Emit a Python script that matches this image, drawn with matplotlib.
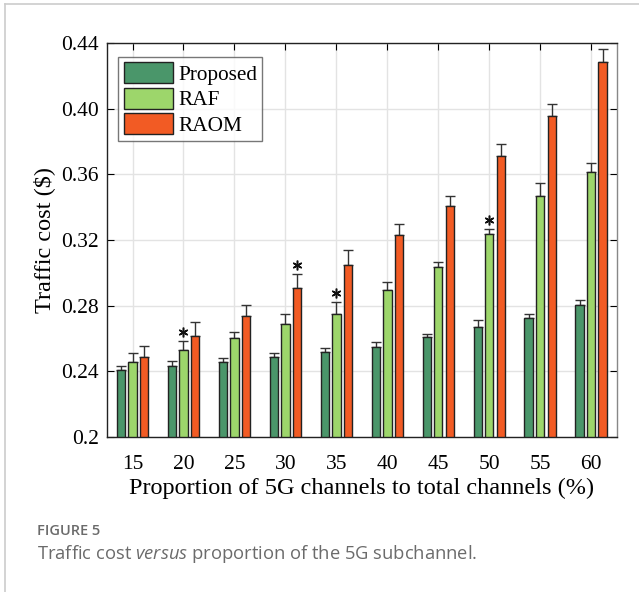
import matplotlib.pyplot as plt
import numpy as np

# Values
proportions = [15, 20, 25, 30, 35, 40, 45, 50, 55, 60]
proposed = [0.2406, 0.2431, 0.2459, 0.2487, 0.2516, 0.2550, 0.2611, 0.2668, 0.2723, 0.2804]
proposed_top = [0.2431, 0.2463, 0.2483, 0.2510, 0.2544, 0.2580, 0.2629, 0.2711, 0.2749, 0.2833]
raf = [0.2459, 0.2528, 0.2603, 0.2686, 0.2751, 0.2897, 0.3034, 0.3236, 0.3468, 0.3612]
raf_top = [0.2510, 0.2583, 0.2641, 0.2749, 0.2820, 0.2942, 0.3068, 0.3269, 0.3547, 0.3667]
raom = [0.2487, 0.2613, 0.2735, 0.2906, 0.3046, 0.3232, 0.3407, 0.3711, 0.3955, 0.4282]
raom_top = [0.2552, 0.2702, 0.2802, 0.2991, 0.3141, 0.3299, 0.3470, 0.3786, 0.4026, 0.4365]
# (series index, category index) of bars marked with an asterisk
starred = [(1, 1), (2, 3), (1, 4), (1, 7)]

series = [("Proposed", proposed, proposed_top, "#4a966a"),
          ("RAF", raf, raf_top, "#9dd66b"),
          ("RAOM", raom, raom_top, "#f25b24")]

plt.rcParams['font.family'] = ['Liberation Serif', 'DejaVu Serif']
plt.rcParams['mathtext.fontset'] = 'custom'
plt.rcParams['mathtext.rm'] = 'Open Sans'
plt.rcParams['mathtext.it'] = 'Open Sans:italic'

fig = plt.figure(figsize=(6.39, 5.92), dpi=100)
ax = fig.add_axes([0.1675, 0.2618, 0.7975, 0.6656])

x = np.arange(1, len(proportions) + 1)
width = 0.165
offsets = [-0.226, 0, 0.226]

for (name, vals, tops, color), off in zip(series, offsets):
    vals = np.array(vals)
    err = np.array(tops) - vals
    ax.bar(x + off, vals - 0.2, width, bottom=0.2, color=color, edgecolor="#222222",
           linewidth=1.0, label=name, zorder=3)
    ax.errorbar(x + off, vals, yerr=[np.zeros_like(err), err], fmt="none",
                ecolor="#333333", elinewidth=1.0, capsize=3.5, capthick=1.0, zorder=2)

for s, i in starred:
    top = series[s][2][i]
    ax.plot(x[i] + offsets[s], top + 0.0055, marker=(6, 2, 0), color="#111111",
            markersize=7, markeredgewidth=1.1, zorder=4)

ax.set_xlim(0.5, len(proportions) + 0.5)
ax.set_ylim(0.2, 0.44)
ax.set_xticks(x)
ax.set_xticklabels([str(p) for p in proportions])
yt = [0.2, 0.24, 0.28, 0.32, 0.36, 0.40, 0.44]
ax.set_yticks(yt)
ax.set_yticklabels(["0.2", "0.24", "0.28", "0.32", "0.36", "0.40", "0.44"])
ax.tick_params(direction="in", top=True, right=True, labelsize=15.5, length=5, width=0.8)
ax.tick_params(axis="x", pad=13)
ax.tick_params(axis="y", pad=6)
ax.grid(True, color="#e3e3e3", linewidth=1.0, zorder=0)
ax.set_axisbelow(True)
for sp in ax.spines.values():
    sp.set_linewidth(1.0)
    sp.set_color("#222222")
ax.spines["right"].set_color("#888888")

ax.set_xlabel("Proportion of 5G channels to total channels (%)", fontsize=17.5, labelpad=3)
ax.set_ylabel("Traffic cost ($)", fontsize=17.5, labelpad=4)

leg = ax.legend(loc="upper left", bbox_to_anchor=(0.014, 0.975), fontsize=15.3,
                frameon=True, fancybox=False, handlelength=2.3, handleheight=1.15,
                handletextpad=0.25, borderpad=0.25, labelspacing=0.12, borderaxespad=0.2)
leg.get_frame().set_edgecolor("#555555")
leg.get_frame().set_linewidth(1.0)

# page frame lines and caption
fig.add_artist(plt.Line2D([5 / 639, 5 / 639], [0, 1 - 4 / 592], color="#cccccc", linewidth=1.2))
fig.add_artist(plt.Line2D([5 / 639, 1], [1 - 4 / 592, 1 - 4 / 592], color="#cccccc", linewidth=1.2))
fig.text(37 / 639, 1 - 531 / 592, "FIGURE 5", family="Open Sans", fontsize=10.5,
         weight="semibold", color="#6b6b6b", va="center")
fig.text(37 / 639, 1 - 554 / 592, "Traffic cost $\\mathit{versus}$ proportion of the 5G subchannel.",
         family="Open Sans", fontsize=13.2, color="#6b6b6b", va="center")

fig.savefig("out.png", dpi=100)
